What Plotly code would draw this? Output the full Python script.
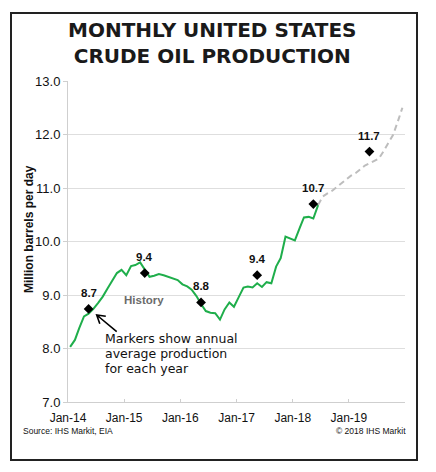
import pandas as pd
import plotly.graph_objects as go

# ---- data ----
history = [
    8.03, 8.16, 8.38, 8.60, 8.65, 8.74, 8.85, 8.97, 9.12, 9.27, 9.41, 9.47,   # 2014
    9.37, 9.54, 9.56, 9.61, 9.47, 9.34, 9.36, 9.39, 9.37, 9.34, 9.31, 9.28,   # 2015
    9.20, 9.16, 9.10, 8.98, 8.83, 8.70, 8.67, 8.66, 8.54, 8.73, 8.86, 8.78,   # 2016
    8.96, 9.14, 9.16, 9.14, 9.22, 9.15, 9.24, 9.22, 9.53, 9.69, 10.09, 10.06, # 2017
    10.02, 10.25, 10.45, 10.46, 10.43, 10.68,                                  # 2018 Jan-Jun
]
projection = [
    10.68, 10.84, 10.90, 10.95, 11.02, 11.09, 11.16,                           # 2018 Jun-Dec
    11.23, 11.28, 11.35, 11.42, 11.46, 11.51, 11.55, 11.69, 11.83, 11.99, 12.24, 12.50,  # 2019
]
years = [2014, 2015, 2016, 2017, 2018, 2019]
annual_avg = [8.74, 9.41, 8.86, 9.37, 10.70, 11.68]
annual_labels = ["8.7", "9.4", "8.8", "9.4", "10.7", "11.7"]
tick_labels = ["Jan-14", "Jan-15", "Jan-16", "Jan-17", "Jan-18", "Jan-19"]
y_ticks = [7, 8, 9, 10, 11, 12, 13]

hist_dates = pd.date_range("2014-01-01", periods=len(history), freq="MS") + pd.Timedelta(days=14)
proj_dates = pd.date_range("2018-06-01", periods=len(projection), freq="MS") + pd.Timedelta(days=14)
avg_dates = [pd.Timestamp(f"{y}-05-15") for y in years]
tick_vals = [pd.Timestamp(f"{y}-01-01") for y in years]

# ---- layout helpers (pixel -> paper) ----
W, H = 436, 472
ML, MR, MT, MB = 68, 31, 81, 70
PW, PH = W - ML - MR, H - MT - MB
def xp(px):
    return (px - ML) / PW
def yp(py):
    return (H - MB - py) / PH

FONT = "Liberation Sans, Arial, sans-serif"
GREEN = "#1fae4b"

fig = go.Figure()
fig.add_trace(go.Scatter(x=proj_dates, y=projection, mode="lines",
                         line=dict(color="#bdbdbd", width=2, dash="6px,4px"),
                         hoverinfo="skip", showlegend=False))
fig.add_trace(go.Scatter(x=hist_dates, y=history, mode="lines",
                         line=dict(color=GREEN, width=2),
                         showlegend=False))
fig.add_trace(go.Scatter(x=avg_dates, y=annual_avg, mode="markers",
                         marker=dict(symbol="diamond", size=7.5, color="black"),
                         showlegend=False))

annotations = []
for d, v, t in zip(avg_dates, annual_avg, annual_labels):
    annotations.append(dict(x=d, y=v, text=f"<b>{t}</b>", showarrow=False, xref="x", yref="y",
                            xanchor="center", yanchor="bottom", yshift=8,
                            font=dict(family=FONT, size=11.5, color="#111")))

annotations += [
    dict(x=pd.Timestamp("2015-05-10"), y=8.91, xref="x", yref="y", text="<b>History</b>",
         xanchor="center", yanchor="middle",
         showarrow=False, font=dict(family=FONT, size=11.5, color="#6b6b6b")),
    dict(x=xp(212), y=yp(43), xref="paper", yref="paper", xanchor="center", yanchor="middle",
         text="<b>MONTHLY UNITED STATES<br>CRUDE OIL PRODUCTION</b>",
         showarrow=False, font=dict(family="DejaVu Sans, Verdana, sans-serif", size=20, color="#1a1a1a")),
    dict(x=xp(29), y=yp(229), xref="paper", yref="paper", xanchor="center", yanchor="middle",
         text="<b>Million barrels per day</b>",
         textangle=-90, showarrow=False, font=dict(family=FONT, size=12, color="#111")),
    dict(x=xp(21), y=yp(430.5), xref="paper", yref="paper", text="Source: IHS Markit, EIA",
         xanchor="left", yanchor="middle", showarrow=False,
         font=dict(family=FONT, size=8.5, color="#111")),
    dict(x=xp(408), y=yp(430.5), xref="paper", yref="paper", text="© 2018 IHS Markit",
         xanchor="right", yanchor="middle", showarrow=False,
         font=dict(family=FONT, size=8.5, color="#111")),
]
note_lines = ["Markers show annual", "average production", "for each year"]
for i, line in enumerate(note_lines):
    annotations.append(dict(x=xp(102.5), y=yp(338.5 + 15 * i), xref="paper", yref="paper",
                            text=line, xanchor="left", yanchor="middle", showarrow=False,
                            font=dict(family="DejaVu Sans, Verdana, sans-serif", size=12.5, color="#111")))

# arrow (tail -> tip) with open head
tip, tail = (96.7, 315.0), (116.7, 331.7)
w1, w2 = (99.8, 323.8), (105.8, 316.3)
arrow_path = (f"M {xp(tail[0])},{yp(tail[1])} L {xp(tip[0])},{yp(tip[1])} "
              f"M {xp(w1[0])},{yp(w1[1])} L {xp(tip[0])},{yp(tip[1])} L {xp(w2[0])},{yp(w2[1])}")

shapes = [
    dict(type="rect", xref="paper", yref="paper", x0=xp(11), x1=xp(417), y0=yp(460), y1=yp(13),
         line=dict(color="#222", width=2), fillcolor="rgba(0,0,0,0)", layer="above"),
    dict(type="path", xref="paper", yref="paper", path=arrow_path,
         line=dict(color="black", width=1.6)),
]

fig.update_layout(
    width=W, height=H,
    margin=dict(l=ML, r=MR, t=MT, b=MB, pad=0),
    paper_bgcolor="white", plot_bgcolor="white",
    showlegend=False,
    font=dict(family=FONT, size=12, color="#111"),
    annotations=annotations,
    shapes=shapes,
    xaxis=dict(range=[pd.Timestamp("2014-01-01"), pd.Timestamp("2020-01-01")],
               tickvals=tick_vals, ticktext=tick_labels,
               showgrid=False, showline=True, linecolor="#cfcfcf", linewidth=1,
               ticks="inside", ticklen=3, tickcolor="#cfcfcf", ticklabelstandoff=5,
               tickfont=dict(family=FONT, size=12, color="#111"), zeroline=False),
    yaxis=dict(range=[7, 13], tickvals=y_ticks, tickformat=".1f",
               showgrid=True, gridcolor="#dedede", gridwidth=1,
               showline=True, linecolor="#cfcfcf", linewidth=1,
               ticks="outside", ticklen=4, tickcolor="#cfcfcf",
               tickfont=dict(family=FONT, size=13, color="#111"), zeroline=False),
)

fig.write_html("out.html", config={"displayModeBar": False},
               post_script="document.body.style.margin='0';document.body.style.padding='0';")
